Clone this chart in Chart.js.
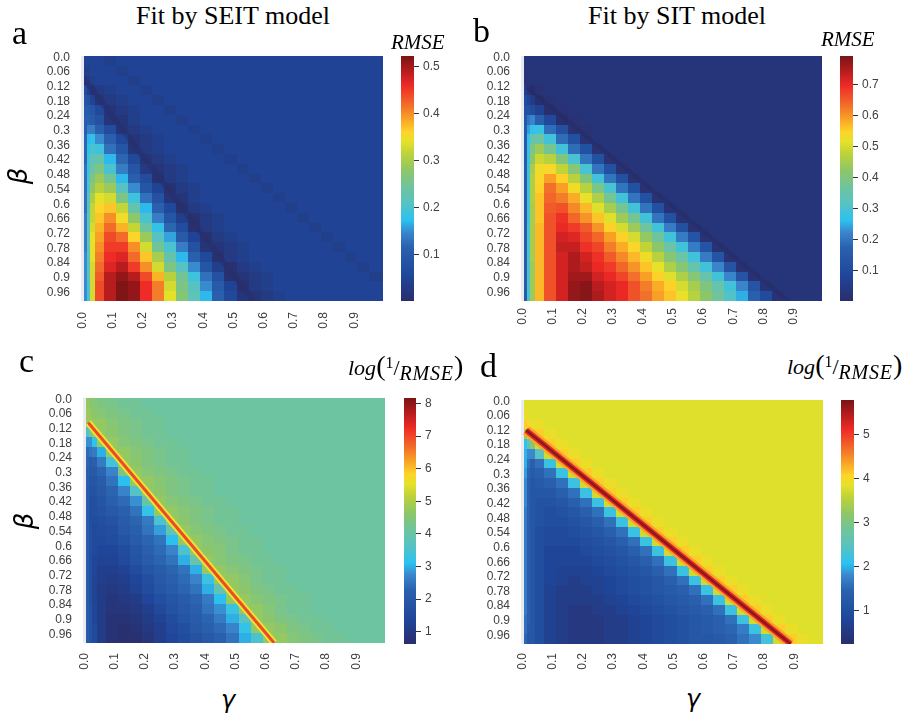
<!DOCTYPE html>
<html>
<head>
<meta charset="utf-8">
<title>RMSE heatmaps: SEIT vs SIT fits</title>
<script src="https://cdn.jsdelivr.net/npm/chart.js@4.4.1/dist/chart.umd.min.js"></script>
<style>
  body { margin: 0; background: #fff; }
  #wrap { position: relative; width: 906px; height: 720px; overflow: hidden; }
  canvas { position: absolute; }
  .txt { position: absolute; white-space: nowrap; color: #000; line-height: 1; }
  .serif { font-family: "Liberation Serif", "Times New Roman", serif; }
  .title { font-size: 26px; transform: translateX(-50%); }
  .letter { font-size: 34px; }
  .cblab { font-size: 21px; font-style: italic; }
  .logl { font-size: 22px; }
  .logl .pr { font-size: 28px; line-height: 0; }
  .logl .sp { font-size: 16px; position: relative; top: -7px; line-height: 0; }
  .logl .sl { font-size: 22px; line-height: 0; }
  .logl .sb { font-size: 20px; position: relative; top: 5px; letter-spacing: 0.8px; line-height: 0; }
  .axlab { font-family: "DejaVu Sans", sans-serif; font-style: italic; font-size: 26px; }
</style>
</head>
<body>
<div id="wrap">
  <canvas id="hmA" width="370" height="305" style="left:21px;top:36px"></canvas>
  <canvas id="cbA" width="53" height="273" style="left:401px;top:42px"></canvas>
  <canvas id="hmB" width="369" height="305" style="left:461px;top:36px"></canvas>
  <canvas id="cbB" width="53" height="273" style="left:840px;top:42px"></canvas>
  <canvas id="hmC" width="370" height="305" style="left:23px;top:378px"></canvas>
  <canvas id="cbC" width="52" height="274" style="left:404px;top:384px"></canvas>
  <canvas id="hmD" width="370" height="304" style="left:461px;top:380px"></canvas>
  <canvas id="cbD" width="53" height="272" style="left:841px;top:386px"></canvas>

  <div class="txt serif title" style="left:233px;top:3px">Fit by SEIT model</div>
  <div class="txt serif title" style="left:677px;top:3px">Fit by SIT model</div>
  <div class="txt serif letter" style="left:12px;top:16px">a</div>
  <div class="txt serif letter" style="left:473px;top:14px">b</div>
  <div class="txt serif letter" style="left:19px;top:344px">c</div>
  <div class="txt serif letter" style="left:480px;top:349px">d</div>
  <div class="txt serif cblab" style="left:391px;top:32px">RMSE</div>
  <div class="txt serif cblab" style="left:821px;top:29px">RMSE</div>
  <div class="txt serif logl" style="left:348px;top:357px"><i>log</i><span class="pr">(</span><span class="sp">1</span><span class="sl">/</span><i class="sb">RMSE</i><span class="pr">)</span></div>
  <div class="txt serif logl" style="left:787px;top:356px"><i>log</i><span class="pr">(</span><span class="sp">1</span><span class="sl">/</span><i class="sb">RMSE</i><span class="pr">)</span></div>
  <div class="txt axlab" style="left:18px;top:176px;transform:translate(-50%,-50%) rotate(-90deg)">β</div>
  <div class="txt axlab" style="left:24px;top:521px;transform:translate(-50%,-50%) rotate(-90deg)">β</div>
  <div class="txt axlab" style="left:228px;top:700px;transform:translate(-50%,-50%);font-size:24px">γ</div>
  <div class="txt axlab" style="left:693px;top:699px;transform:translate(-50%,-50%);font-size:24px">γ</div>
</div>

<script>
// Grid cell centres (gamma columns, beta rows); first gamma column is empty (NaN in the source)
const gammaCells = [0, 0.01, 0.02, 0.03, 0.05, 0.09, 0.13, 0.17, 0.21, 0.25, 0.29, 0.33, 0.37, 0.41, 0.45, 0.49, 0.53, 0.57, 0.61, 0.65, 0.69, 0.73, 0.77, 0.81, 0.85, 0.89, 0.93, 0.97];
const betaCells = [0.015, 0.055, 0.095, 0.135, 0.175, 0.215, 0.255, 0.295, 0.335, 0.375, 0.415, 0.455, 0.495, 0.535, 0.575, 0.615, 0.655, 0.695, 0.735, 0.775, 0.815, 0.855, 0.895, 0.935, 0.975];

// Tick labels
const betaTicks = [0, 0.06, 0.12, 0.18, 0.24, 0.3, 0.36, 0.42, 0.48, 0.54, 0.6, 0.66, 0.72, 0.78, 0.84, 0.9, 0.96];
const betaTickLabels = ['0.0', '0.06', '0.12', '0.18', '0.24', '0.3', '0.36', '0.42', '0.48', '0.54', '0.6', '0.66', '0.72', '0.78', '0.84', '0.9', '0.96'];
const gammaTicks = [0, 0.1, 0.2, 0.3, 0.4, 0.5, 0.6, 0.7, 0.8, 0.9];
const gammaTickLabels = ['0.0', '0.1', '0.2', '0.3', '0.4', '0.5', '0.6', '0.7', '0.8', '0.9'];

// Colorbar ranges and ticks
const seitRmseRange = [0.002, 0.523];
const sitRmseRange = [0.0025, 0.791];
const seitLogRange = [0.62, 8.17];
const sitLogRange = [0.24, 5.78];
const seitRmseTicks = [0.1, 0.2, 0.3, 0.4, 0.5];
const sitRmseTicks = [0.1, 0.2, 0.3, 0.4, 0.5, 0.6, 0.7];
const seitLogTicks = [1, 2, 3, 4, 5, 6, 7, 8];
const sitLogTicks = [1, 2, 3, 4, 5];

// a: SEIT fit, RMSE x100 (rows = beta, columns = gamma)
const seitRmse = [
  [null, 5,5,5,5,4,5,5,5,5,5,5,5,5,5,5,5,5,5,5,5,5,5,5,5,5,5,5],
  [null, 4,4,5,5,5,4,5,5,5,5,5,5,5,5,5,5,5,5,5,5,5,5,5,5,5,5,5],
  [null, 2,3,4,5,5,5,4,5,5,5,5,5,5,5,5,5,5,5,5,5,5,5,5,5,5,5,5],
  [null, 7,4,2,3,4,5,5,4,5,5,5,5,5,5,5,5,5,5,5,5,5,5,5,5,5,5,5],
  [null, 9,8,5,2,3,4,5,5,4,5,5,5,5,5,5,5,5,5,5,5,5,5,5,5,5,5,5],
  [null, 10,10,9,6,2,3,4,5,5,4,5,5,5,5,5,5,5,5,5,5,5,5,5,5,5,5,5],
  [null, 11,11,10,8,2,2,4,5,5,5,4,5,5,5,5,5,5,5,5,5,5,5,5,5,5,5,5],
  [null, 11,14,14,11,7,2,3,4,5,5,5,4,5,5,5,5,5,5,5,5,5,5,5,5,5,5,5],
  [null, 12,17,18,15,11,6,2,3,4,5,5,5,4,5,5,5,5,5,5,5,5,5,5,5,5,5,5],
  [null, 12,18,20,19,13,9,2,3,4,5,5,5,5,4,5,5,5,5,5,5,5,5,5,5,5,5,5],
  [null, 12,19,22,23,17,12,6,2,3,4,5,5,5,5,4,5,5,5,5,5,5,5,5,5,5,5,5],
  [null, 13,19,24,26,20,14,9,3,2,3,4,5,5,5,5,4,5,5,5,5,5,5,5,5,5,5,5],
  [null, 13,20,26,29,25,17,11,7,1,3,4,5,5,5,5,5,4,5,5,5,5,5,5,5,5,5,5],
  [null, 13,20,28,31,29,21,15,9,5,1,3,4,5,5,5,5,5,4,5,5,5,5,5,5,5,5,5],
  [null, 13,21,30,34,33,26,19,13,8,2,2,4,5,5,5,5,5,5,4,5,5,5,5,5,5,5,5],
  [null, 13,21,32,36,37,32,23,17,11,6,1,3,4,5,5,5,5,5,5,4,5,5,5,5,5,5,5],
  [null, 14,22,32,37,40,35,28,20,14,9,4,1,3,4,5,5,5,5,5,5,4,5,5,5,5,5,5],
  [null, 14,22,33,38,42,38,32,24,18,12,7,1,3,4,5,5,5,5,5,5,5,4,5,5,5,5,5],
  [null, 14,22,34,39,44,42,36,29,21,16,10,5,1,3,4,5,5,5,5,5,5,5,4,5,5,5,5],
  [null, 14,22,34,40,45,45,40,33,25,20,14,8,2,2,3,4,5,5,5,5,5,5,5,4,5,5,5],
  [null, 15,21,34,41,46,47,42,37,30,23,17,11,6,1,3,4,5,5,5,5,5,5,5,5,4,5,5],
  [null, 15,21,33,42,47,49,45,40,33,26,21,15,9,4,1,3,4,5,5,5,5,5,5,5,5,4,5],
  [null, 15,21,33,43,49,51,49,44,38,31,25,19,13,8,1,2,3,4,5,5,5,5,5,5,5,5,4],
  [null, 15,20,33,44,49,52,51,46,41,33,26,21,15,10,5,1,3,4,5,5,5,5,5,5,5,5,5],
  [null, 15,20,33,44,49,52,51,46,41,34,27,22,17,11,6,2,2,3,4,5,5,5,5,5,5,5,5]
];

// b: SIT fit, RMSE x100
const sitRmse = [
  [null, 3,3,3,3,3,3,3,3,3,3,3,3,3,3,3,3,3,3,3,3,3,3,3,3,3,3,3],
  [null, 3,3,3,3,3,3,3,3,3,3,3,3,3,3,3,3,3,3,3,3,3,3,3,3,3,3,3],
  [null, 2,3,3,3,3,3,3,3,3,3,3,3,3,3,3,3,3,3,3,3,3,3,3,3,3,3,3],
  [null, 6,3,1,2,3,3,3,3,3,3,3,3,3,3,3,3,3,3,3,3,3,3,3,3,3,3,3],
  [null, 10,8,5,1,2,3,3,3,3,3,3,3,3,3,3,3,3,3,3,3,3,3,3,3,3,3,3],
  [null, 12,12,10,7,1,2,3,3,3,3,3,3,3,3,3,3,3,3,3,3,3,3,3,3,3,3,3],
  [null, 14,20,22,17,9,1,2,3,3,3,3,3,3,3,3,3,3,3,3,3,3,3,3,3,3,3,3],
  [null, 15,24,27,28,19,12,2,2,3,3,3,3,3,3,3,3,3,3,3,3,3,3,3,3,3,3,3],
  [null, 15,27,35,36,29,19,12,2,3,3,3,3,3,3,3,3,3,3,3,3,3,3,3,3,3,3,3],
  [null, 15,28,39,44,38,29,19,12,2,3,3,3,3,3,3,3,3,3,3,3,3,3,3,3,3,3,3],
  [null, 15,28,42,49,47,40,30,20,12,2,3,3,3,3,3,3,3,3,3,3,3,3,3,3,3,3,3],
  [null, 16,29,45,53,54,48,41,30,20,12,2,3,3,3,3,3,3,3,3,3,3,3,3,3,3,3,3],
  [null, 16,29,46,54,59,55,47,40,29,20,12,2,3,3,3,3,3,3,3,3,3,3,3,3,3,3,3],
  [null, 16,29,46,55,63,59,53,47,39,30,20,12,2,3,3,3,3,3,3,3,3,3,3,3,3,3,3],
  [null, 16,29,46,56,64,62,58,52,46,38,29,20,12,2,3,3,3,3,3,3,3,3,3,3,3,3,3],
  [null, 16,29,45,56,65,66,61,57,51,45,38,29,20,12,2,3,3,3,3,3,3,3,3,3,3,3,3],
  [null, 16,29,45,56,66,69,64,60,56,51,44,38,29,20,12,2,3,3,3,3,3,3,3,3,3,3,3],
  [null, 16,30,45,57,66,70,68,65,60,55,50,44,37,29,21,12,2,3,3,3,3,3,3,3,3,3,3],
  [null, 16,30,45,57,66,72,71,67,64,59,55,50,43,37,29,21,13,2,3,3,3,3,3,3,3,3,3],
  [null, 16,30,45,57,66,73,73,69,67,62,58,54,48,42,36,29,21,13,2,3,3,3,3,3,3,3,3],
  [null, 16,30,45,57,66,72,75,72,69,65,61,57,53,47,41,36,29,21,13,2,3,3,3,3,3,3,3],
  [null, 16,30,44,57,66,72,75,73,70,68,64,60,56,52,46,41,35,29,22,13,2,3,3,3,3,3,3],
  [null, 16,30,44,57,66,72,76,76,72,70,67,63,59,55,51,46,41,35,29,22,13,2,3,3,3,3,3],
  [null, 16,30,44,57,66,72,77,78,74,72,70,66,62,58,55,50,45,40,35,29,22,13,2,3,3,3,3],
  [null, 15,30,44,57,66,72,77,78,75,72,70,66,63,59,56,52,47,42,37,31,25,17,10,2,3,3,3]
];

// c: SEIT fit, log(1/RMSE) x10
const seitLogInv = [
  [null, 47,46,45,44,43,42,42,41,41,41,41,41,41,41,41,41,41,41,41,41,41,41,41,41,41,41,41],
  [null, 48,47,46,45,44,43,42,42,41,41,41,41,41,41,41,41,41,41,41,41,41,41,41,41,41,41,41],
  [null, 48,48,47,47,45,44,43,42,42,41,41,41,41,41,41,41,41,41,41,41,41,41,41,41,41,41,41],
  [null, 35,43,48,47,46,44,43,42,42,41,41,41,41,41,41,41,41,41,41,41,41,41,41,41,41,41,41],
  [null, 28,28,32,47,47,45,44,43,42,42,41,41,41,41,41,41,41,41,41,41,41,41,41,41,41,41,41],
  [null, 24,25,26,30,47,47,45,44,43,42,42,41,41,41,41,41,41,41,41,41,41,41,41,41,41,41,41],
  [null, 23,21,22,26,34,47,46,44,43,42,42,41,41,41,41,41,41,41,41,41,41,41,41,41,41,41,41],
  [null, 22,20,20,23,27,44,47,45,44,43,42,42,41,41,41,41,41,41,41,41,41,41,41,41,41,41,41],
  [null, 22,19,19,21,25,31,47,47,45,44,43,42,42,41,41,41,41,41,41,41,41,41,41,41,41,41,41],
  [null, 21,18,18,20,23,27,36,47,46,44,43,42,42,41,41,41,41,41,41,41,41,41,41,41,41,41,41],
  [null, 21,17,17,19,22,24,28,40,47,45,44,43,42,42,41,41,41,41,41,41,41,41,41,41,41,41,41],
  [null, 21,17,17,18,20,22,25,32,47,47,45,44,43,42,42,41,41,41,41,41,41,41,41,41,41,41,41],
  [null, 21,17,16,17,18,21,23,26,35,47,46,44,43,42,42,41,41,41,41,41,41,41,41,41,41,41,41],
  [null, 21,17,15,16,17,20,22,25,29,39,47,45,44,43,42,42,41,41,41,41,41,41,41,41,41,41,41],
  [null, 21,17,15,15,16,18,21,23,25,31,47,47,45,44,43,42,42,41,41,41,41,41,41,41,41,41,41],
  [null, 21,17,15,14,14,16,19,22,24,27,35,47,46,45,43,42,42,41,41,41,41,41,41,41,41,41,41],
  [null, 21,17,14,13,13,15,18,21,23,25,30,40,47,45,44,43,42,42,41,41,41,41,41,41,41,41,41],
  [null, 21,17,14,12,12,13,16,19,21,23,25,30,47,47,45,44,43,42,42,41,41,41,41,41,41,41,41],
  [null, 21,17,13,12,11,12,14,17,20,22,24,27,33,47,47,45,43,42,42,41,41,41,41,41,41,41,41],
  [null, 21,17,13,11,10,11,13,16,19,21,23,25,30,39,47,46,44,43,42,42,41,41,41,41,41,41,41],
  [null, 21,17,13,11,9,10,11,14,17,19,21,23,26,31,47,47,45,44,43,42,42,41,41,41,41,41,41],
  [null, 21,18,14,11,9,9,10,12,15,18,20,22,25,28,33,47,47,45,43,42,42,41,41,41,41,41,41],
  [null, 21,18,14,11,8,8,9,11,13,16,19,21,23,26,30,37,47,46,44,43,42,42,41,41,41,41,41],
  [null, 21,18,15,11,8,7,8,10,12,15,17,20,22,24,27,32,47,47,46,44,43,42,42,41,41,41,41],
  [null, 21,18,15,11,8,7,7,9,12,14,16,18,20,22,25,30,35,47,47,45,44,43,42,42,41,41,41]
];

// d: SIT fit, log(1/RMSE) x10
const sitLogInv = [
  [null, 38,38,38,38,38,38,38,38,38,38,38,38,38,38,38,38,38,38,38,38,38,38,38,38,38,38,38],
  [null, 39,38,38,38,38,38,38,38,38,38,38,38,38,38,38,38,38,38,38,38,38,38,38,38,38,38,38],
  [null, 41,40,39,39,38,38,38,38,38,38,38,38,38,38,38,38,38,38,38,38,38,38,38,38,38,38,38],
  [null, 34,38,37,41,39,38,38,38,38,38,38,38,38,38,38,38,38,38,38,38,38,38,38,38,38,38,38],
  [null, 21,26,31,37,41,39,38,38,38,38,38,38,38,38,38,38,38,38,38,38,38,38,38,38,38,38,38],
  [null, 20,18,18,25,37,41,39,38,38,38,38,38,38,38,38,38,38,38,38,38,38,38,38,38,38,38,38],
  [null, 20,16,14,16,22,37,41,39,38,38,38,38,38,38,38,38,38,38,38,38,38,38,38,38,38,38,38],
  [null, 19,15,13,14,16,22,37,41,39,38,38,38,38,38,38,38,38,38,38,38,38,38,38,38,38,38,38],
  [null, 18,14,12,13,14,16,22,37,41,39,38,38,38,38,38,38,38,38,38,38,38,38,38,38,38,38,38],
  [null, 18,14,12,12,12,14,16,22,37,41,39,38,38,38,38,38,38,38,38,38,38,38,38,38,38,38,38],
  [null, 18,14,12,11,11,12,14,16,22,37,41,39,38,38,38,38,38,38,38,38,38,38,38,38,38,38,38],
  [null, 17,14,12,11,10,11,12,14,16,22,37,41,39,38,38,38,38,38,38,38,38,38,38,38,38,38,38],
  [null, 17,14,12,11,10,10,11,12,14,16,22,37,41,39,38,38,38,38,38,38,38,38,38,38,38,38,38],
  [null, 17,14,12,10,9,9,10,11,12,14,16,22,37,41,39,38,38,38,38,38,38,38,38,38,38,38,38],
  [null, 17,14,12,10,9,9,9,10,11,12,14,16,22,37,41,39,38,38,38,38,38,38,38,38,38,38,38],
  [null, 17,14,12,10,8,8,8,9,10,11,12,14,16,22,37,41,39,38,38,38,38,38,38,38,38,38,38],
  [null, 17,14,12,10,8,8,8,8,9,10,11,12,14,16,22,37,41,39,38,38,38,38,38,38,38,38,38],
  [null, 17,14,12,10,8,7,7,7,8,9,10,11,12,14,16,22,37,41,39,38,38,38,38,38,38,38,38],
  [null, 17,14,12,10,8,7,6,7,7,8,9,10,11,12,14,16,22,37,41,39,38,38,38,38,38,38,38],
  [null, 17,14,12,10,7,6,6,6,7,8,9,10,11,12,13,14,16,22,37,41,39,38,38,38,38,38,38],
  [null, 17,14,12,10,7,6,6,6,6,7,8,9,10,11,12,13,14,16,22,37,41,39,38,38,38,38,38],
  [null, 17,14,12,10,7,6,5,5,6,6,7,8,9,10,11,12,13,14,16,22,37,41,39,38,38,38,38],
  [null, 16,14,12,10,7,6,5,5,5,6,6,7,8,9,10,11,12,13,14,16,22,37,41,39,38,38,38],
  [null, 16,13,12,10,7,6,5,5,5,6,6,7,8,9,10,11,12,13,14,15,17,22,37,41,39,38,38],
  [null, 15,12,12,10,7,6,5,5,5,6,6,7,8,9,10,11,12,12,13,14,16,18,23,37,41,39,38]
];

// Ridge / valley lines (gamma, beta end points)
const seitValleyGamma = [0.012, 0.565];
const seitValleyBeta = [0.099, 0.995];
const sitValleyGamma = [0.012, 0.885];
const sitValleyBeta = [0.122, 0.995];
const seitRidgeGamma = [0.012, 0.628];
const seitRidgeBeta = [0.095, 0.995];
const sitRidgeGamma = [0.012, 0.888];
const sitRidgeBeta = [0.119, 0.995];

// Colormap (blue - cyan - green - yellow - red - dark red)
const cmapStops = [0, 0.1, 0.22, 0.28, 0.33, 0.40, 0.46, 0.53, 0.60, 0.65, 0.69, 0.74, 0.80, 0.88, 0.94, 1];
const cmapColors = ['#2a2d6a', '#1f4599', '#2a62ae', '#3a86cc', '#2bc2f0', '#58c2c2', '#6cc4a1', '#8cc66a', '#bcd23a', '#e4e229', '#fed42a', '#f9a526', '#f26d2a', '#ee2a26', '#b51c1e', '#7a1416'];

const tickColor = '#404040';
const tickFont = { family: '"Liberation Sans", Arial, sans-serif', size: 12 };

function hexRgb(h) {
    return [parseInt(h.slice(1, 3), 16), parseInt(h.slice(3, 5), 16), parseInt(h.slice(5, 7), 16)];
}

function colorAt(t) {
    t = Math.max(0, Math.min(1, t));
    let k = 1;
    while (k < cmapStops.length - 1 && t > cmapStops[k]) k++;
    const f = (t - cmapStops[k - 1]) / (cmapStops[k] - cmapStops[k - 1]);
    const a = hexRgb(cmapColors[k - 1]), b = hexRgb(cmapColors[k]);
    const c = a.map((v, i) => Math.round(v + (b[i] - v) * f));
    return `rgb(${c[0]},${c[1]},${c[2]})`;
}

// cell edges halfway between centres, outer edges on the axis limits
function cellEdges(centres, lo, hi) {
    const e = [lo];
    for (let i = 1; i < centres.length; i++) e.push((centres[i - 1] + centres[i]) / 2);
    e.push(hi);
    return e;
}

function heatLayer(panel) {
    return {
        id: 'heat',
        beforeDatasetsDraw(chart) {
            const { ctx, chartArea: area, scales: { x, y } } = chart;
            ctx.save();
            ctx.beginPath();
            ctx.rect(area.left, area.top, area.width, area.height);
            ctx.clip();
            ctx.fillStyle = '#eaeaf2';
            ctx.fillRect(area.left, area.top, area.width, area.height);
            const gx = cellEdges(gammaCells, x.min, x.max).map(v => Math.round(x.getPixelForValue(v)));
            const gy = cellEdges(betaCells, y.min, y.max).map(v => Math.round(y.getPixelForValue(v)));
            const [vmin, vmax] = panel.range;
            panel.values.forEach((row, i) => {
                row.forEach((v, j) => {
                    if (v === null) return;
                    ctx.fillStyle = colorAt((v / panel.unit - vmin) / (vmax - vmin));
                    ctx.fillRect(gx[j], gy[i], gx[j + 1] - gx[j], gy[i + 1] - gy[i]);
                });
            });
            ctx.restore();
        }
    };
}

// first line in the list is drawn on top
function heatmap(id, panel) {
    const datasets = panel.lines.map(l => ({
        data: l.g.map((g, i) => ({ x: g, y: l.b[i] })),
        showLine: true,
        borderColor: l.color,
        borderWidth: l.width,
        pointRadius: 0,
        tension: 0,
        clip: 0
    }));
    return new Chart(document.getElementById(id), {
        type: 'scatter',
        data: { datasets },
        options: {
            responsive: false,
            animation: false,
            events: [],
            layout: { padding: { top: 20, right: 8, left: 0, bottom: 0 } },
            plugins: { legend: { display: false }, tooltip: { enabled: false } },
            scales: {
                x: {
                    type: 'linear', min: -0.005, max: 0.995,
                    afterFit: s => { s.height = 40; },
                    afterBuildTicks: s => { s.ticks = gammaTicks.map(v => ({ value: v })); },
                    grid: { display: false, drawTicks: false },
                    border: { display: false },
                    ticks: {
                        autoSkip: false, minRotation: 90, maxRotation: 90,
                        padding: panel.xPad, color: tickColor, font: tickFont,
                        callback: (v, i) => gammaTickLabels[i]
                    }
                },
                y: {
                    type: 'linear', reverse: true, min: -0.005, max: 0.995,
                    afterFit: s => { s.width = 60; },
                    afterBuildTicks: s => { s.ticks = betaTicks.map(v => ({ value: v })); },
                    grid: { display: false, drawTicks: false },
                    border: { display: false },
                    ticks: {
                        autoSkip: false, padding: 11, color: tickColor, font: tickFont,
                        callback: (v, i) => betaTickLabels[i]
                    }
                }
            }
        },
        plugins: [heatLayer(panel)]
    });
}

function colorbar(id, range, ticks, digits) {
    return new Chart(document.getElementById(id), {
        type: 'bar',
        data: {
            labels: [''],
            datasets: [{
                data: [[range[0], range[1]]],
                backgroundColor: c => {
                    const area = c.chart.chartArea;
                    if (!area) return 'transparent';
                    const g = c.chart.ctx.createLinearGradient(0, area.bottom, 0, area.top);
                    cmapStops.forEach((s, k) => g.addColorStop(s, cmapColors[k]));
                    return g;
                },
                borderWidth: 0,
                barPercentage: 1,
                categoryPercentage: 1
            }]
        },
        options: {
            responsive: false,
            animation: false,
            events: [],
            layout: { padding: { top: 14, bottom: 14, left: 0, right: 0 } },
            plugins: { legend: { display: false }, tooltip: { enabled: false } },
            scales: {
                x: { display: false },
                y: {
                    position: 'right', min: range[0], max: range[1],
                    afterFit: s => { s.width = 40; },
                    afterBuildTicks: s => { s.ticks = ticks.map(v => ({ value: v })); },
                    grid: { drawOnChartArea: false, drawTicks: true, tickLength: 5, color: '#333', lineWidth: 1 },
                    border: { display: false },
                    ticks: { padding: 4, color: tickColor, font: tickFont, callback: v => v.toFixed(digits) }
                }
            }
        }
    });
}

heatmap('hmA', {
    values: seitRmse, unit: 100, range: seitRmseRange, xPad: 11,
    lines: [{ g: seitValleyGamma, b: seitValleyBeta, color: 'rgba(38,46,106,0.5)', width: 6 }]
});
heatmap('hmB', {
    values: sitRmse, unit: 100, range: sitRmseRange, xPad: 7,
    lines: [{ g: sitValleyGamma, b: sitValleyBeta, color: 'rgba(36,42,98,0.45)', width: 4 }]
});
heatmap('hmC', {
    values: seitLogInv, unit: 10, range: seitLogRange, xPad: 10,
    lines: [
        { g: seitRidgeGamma, b: seitRidgeBeta, color: '#ee4a2a', width: 3 },
        { g: seitRidgeGamma, b: seitRidgeBeta, color: '#ece32e', width: 7 }
    ]
});
heatmap('hmD', {
    values: sitLogInv, unit: 10, range: sitLogRange, xPad: 9,
    lines: [
        { g: sitRidgeGamma, b: sitRidgeBeta, color: '#861a1c', width: 2.5 },
        { g: sitRidgeGamma, b: sitRidgeBeta, color: '#e8262a', width: 5.5 },
        { g: sitRidgeGamma, b: sitRidgeBeta, color: '#f9a526', width: 10 }
    ]
});

colorbar('cbA', seitRmseRange, seitRmseTicks, 1);
colorbar('cbB', sitRmseRange, sitRmseTicks, 1);
colorbar('cbC', seitLogRange, seitLogTicks, 0);
colorbar('cbD', sitLogRange, sitLogTicks, 0);
</script>
</body>
</html>
